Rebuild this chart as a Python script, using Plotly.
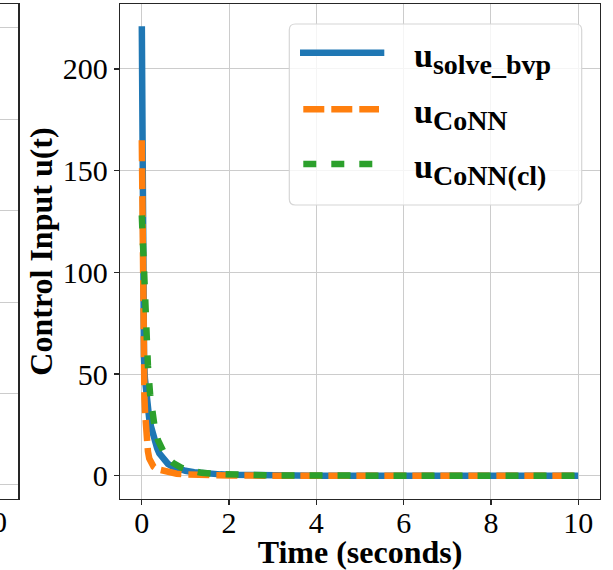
import plotly.graph_objects as go

# ---------------- data ----------------
t_bvp = [0, 0.005, 0.01, 0.015, 0.02, 0.03, 0.04, 0.05, 0.07, 0.09, 0.11, 0.14, 0.17,
         0.2, 0.25, 0.3, 0.35, 0.4, 0.5, 0.6, 0.7, 0.8, 0.9, 1.0, 1.2, 1.4, 1.6, 1.8,
         2.0, 2.5, 3, 4, 5, 6, 7, 8, 9, 10]
u_bvp = [221, 185, 140, 112, 96, 78, 66, 58, 48, 42, 37, 32, 28,
         25, 20.5, 16.5, 13.5, 11, 7.7, 5.8, 4.5, 3.6, 2.9, 2.4, 1.7, 1.2, 0.9, 0.65,
         0.5, 0.25, 0.12, 0.03, 0.01, 0, 0, 0, 0, 0]

t_conn = [0, 0.005, 0.01, 0.015, 0.02, 0.03, 0.04, 0.05, 0.06, 0.075, 0.09, 0.11, 0.14,
          0.17, 0.2, 0.27, 0.35, 0.5, 0.6, 0.8, 1.0, 1.2, 1.5, 2, 3, 4, 5, 6, 7, 8, 9, 10]
u_conn = [165, 140, 118, 100, 86, 66, 48, 43, 38, 31, 24, 17, 12,
          8.5, 6.8, 4.4, 3.2, 2.2, 1.7, 1.0, 0.6, 0.35, 0.2, 0.08, 0.02, 0, 0, 0, 0, 0, 0, 0]

t_cl = [0, 0.01, 0.02, 0.03, 0.04, 0.05, 0.075, 0.1, 0.14, 0.19, 0.23, 0.3, 0.37, 0.45,
        0.55, 0.72, 0.9, 1.1, 1.37, 1.7, 2.0, 2.5, 3, 4, 5, 6, 7, 8, 9, 10]
u_cl = [128, 122, 114, 106, 98, 91, 76, 64, 54, 40, 32, 23, 17.5, 13,
        9.5, 6.2, 4, 2.6, 1.4, 0.8, 0.5, 0.25, 0.12, 0.04, 0, 0, 0, 0, 0, 0]

x_ticks = [0, 2, 4, 6, 8, 10]
y_ticks = [0, 50, 100, 150, 200]

SUB = "<span style='font-size:28px'>{}</span>"
legend_labels = ["<b>u<sub>" + SUB.format("solve_bvp") + "</sub></b>",
                 "<b>u<sub>" + SUB.format("CoNN") + "</sub></b>",
                 "<b>u<sub>" + SUB.format("CoNN(cl)") + "</sub></b>"]
colors = ["#1f77b4", "#ff7f0e", "#2ca02c"]
dashes = ["solid", "21px,7px", "13px,15px"]

# ---------------- layout geometry (pixels) ----------------
W, H = 613, 570
ML, MR, MT, MB = 0, 13, 4, 71
PW, PH = W - ML - MR, H - MT - MB


def px(x):
    return (x - ML) / PW


def py(y):
    return (H - MB - y) / PH


FONT = "Liberation Serif"
AX = "#262626"
GRID = "#cccccc"

fig = go.Figure()
series = [(t_bvp, u_bvp), (t_conn, u_conn), (t_cl, u_cl)]
for (tt, uu), c, d in zip(series, colors, dashes):
    fig.add_trace(go.Scatter(x=tt, y=uu, mode="lines",
                             line=dict(color=c, width=6.5, dash=d),
                             showlegend=False, hoverinfo="skip"))

# neighbouring (cropped) panel on the left
fig.add_trace(go.Scatter(x=[], y=[], xaxis="x2", yaxis="y2", showlegend=False,
                         hoverinfo="skip"))

fig.update_layout(
    width=W, height=H,
    margin=dict(l=ML, r=MR, t=MT, b=MB, autoexpand=False),
    paper_bgcolor="white", plot_bgcolor="white",
    font=dict(family=FONT, size=30, color="black"),
    xaxis=dict(domain=[px(120), 1], range=[-0.5, 10.5], tickvals=x_ticks,
               showgrid=True, gridcolor=GRID, gridwidth=1, zeroline=False,
               showline=True, linecolor=AX, linewidth=1.2, mirror=True,
               ticks="outside", ticklen=5, tickcolor=AX, tickwidth=1.2,
               tickfont=dict(size=30), ticklabelstandoff=-8,
               title=dict(text="<b>Time (seconds)</b>", font=dict(size=32),
                          standoff=14)),
    yaxis=dict(domain=[0, 1], range=[-11.46, 231.96], tickvals=y_ticks,
               showgrid=True, gridcolor=GRID, gridwidth=1, zeroline=False,
               showline=True, linecolor=AX, linewidth=1.2, mirror=True,
               ticks="outside", ticklen=5, tickcolor=AX, tickwidth=1.2,
               tickfont=dict(size=30),
               title=dict(text="<b>Control Input u(t)</b>", font=dict(size=32),
                          standoff=0)),
    xaxis2=dict(domain=[0, px(18.3)], range=[9.7, 10.5], anchor="y2",
                showgrid=False, zeroline=False, showticklabels=False, ticks="",
                showline=True, linecolor=AX, linewidth=1.2, mirror=True),
    yaxis2=dict(domain=[0, 1], range=[-0.155, 5.26], anchor="x2", side="right",
                dtick=1, showgrid=True, gridcolor=GRID, gridwidth=1, zeroline=False,
                showticklabels=False, ticks="",
                showline=True, linecolor=AX, linewidth=1.2),
)

# cropped tick label of the left panel
fig.add_annotation(x=px(-7.7), y=py(521), xref="paper", yref="paper", text="10",
                   showarrow=False, xanchor="center", yanchor="middle",
                   font=dict(size=30, family=FONT))

# ---------------- legend (matplotlib style) ----------------
bx0, by0, bx1, by1, r = 289.3, 24, 581.7, 205, 6
rx, ry = r / PW, r / PH
X0, X1, Y0, Y1 = px(bx0), px(bx1), py(by0), py(by1)
path = (f"M {X0+rx},{Y0} L {X1-rx},{Y0} Q {X1},{Y0} {X1},{Y0-ry} "
        f"L {X1},{Y1+ry} Q {X1},{Y1} {X1-rx},{Y1} L {X0+rx},{Y1} "
        f"Q {X0},{Y1} {X0},{Y1+ry} L {X0},{Y0-ry} Q {X0},{Y0} {X0+rx},{Y0} Z")
fig.add_shape(type="path", path=path, xref="paper", yref="paper",
              line=dict(color="#d6d6d6", width=1.2),
              fillcolor="rgba(255,255,255,0.8)", layer="above")

sample_y = [52.7, 109.3, 164]
sample_x = [(300, 384.3), (303.3, 379), (303.3, 372.7)]
text_y = [58, 114, 169]
for i in range(3):
    fig.add_shape(type="line", xref="paper", yref="paper",
                  x0=px(sample_x[i][0]), x1=px(sample_x[i][1]),
                  y0=py(sample_y[i]), y1=py(sample_y[i]),
                  line=dict(color=colors[i], width=6.5, dash=dashes[i]),
                  layer="above")
    fig.add_annotation(x=px(411.7), y=py(text_y[i]), xref="paper", yref="paper",
                       text=legend_labels[i], showarrow=False,
                       xanchor="left", yanchor="middle",
                       font=dict(size=34, family=FONT, color="black"))

fig.write_html("out.html",
               config={"displayModeBar": False, "staticPlot": True},
               post_script="document.body.style.margin='0';"
                           "document.body.style.overflow='hidden';")
